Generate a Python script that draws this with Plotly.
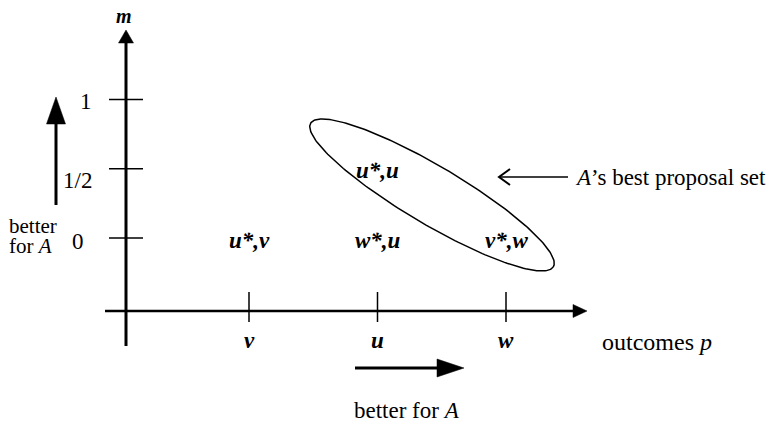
import numpy as np
import plotly.graph_objects as go

# outcomes p along the horizontal axis
outcomes = ["v", "u", "w"]
outcome_pos = [1, 2, 3]

# m values on the vertical axis
m_ticks = [0, 0.5, 1]
m_tick_labels = ["0", "1/2", "1"]

# (outcome, m) pairs written in the plane
pair_labels = ["u*,v", "w*,u", "v*,w", "u*,u"]
pair_p = [1, 2, 3, 2]
pair_m = [0, 0, 0, 0.5]

W, H = 779, 425
PAD = 8  # the page body adds an 8px margin around the figure
FONT = "Liberation Serif, Times New Roman, serif"
FS = 23


# layout helpers: pixel position on the screenshot -> data units
def X(px):
    return 1 + (px - 249) / 128.5


def Y(py):
    return (238 - py) / 138.5


shapes = []
annotations = []


def seg(x0, y0, x1, y1, w):
    shapes.append(dict(type="line", xref="x", yref="y",
                       x0=x0, y0=y0, x1=x1, y1=y1,
                       line=dict(color="black", width=w)))


def arrow(x0, y0, x1, y1, w, head_len, head_half):
    # pixel coords, filled triangle head at (x1, y1)
    L = np.hypot(x1 - x0, y1 - y0)
    ux, uy = (x1 - x0) / L, (y1 - y0) / L
    bx, by = x1 - ux * head_len, y1 - uy * head_len
    seg(X(x0), Y(y0), X(bx + ux), Y(by + uy), w)
    nx, ny = -uy, ux
    pts = [(x1, y1), (bx + nx * head_half, by + ny * head_half),
           (bx - nx * head_half, by - ny * head_half)]
    path = "M " + " L ".join(f"{X(a):.4f},{Y(b):.4f}" for a, b in pts) + " Z"
    shapes.append(dict(type="path", xref="x", yref="y", path=path,
                       fillcolor="black", line=dict(color="black", width=0.5)))


def text(x, y, s, size=FS, xanchor="center", **kw):
    annotations.append(dict(x=x, y=y, xref="x", yref="y", text=s, showarrow=False,
                            xanchor=xanchor, yanchor="middle", borderpad=0,
                            font=dict(family=FONT, size=size, color="black"), **kw))


# axes with arrows
arrow(126, 346, 126, 30, 3, 13, 7.5)
arrow(105, 311, 587, 311, 2.5, 14, 6.5)

# tick marks
for m in m_ticks:
    seg(X(109), m, X(143), m, 1.5)
for p in outcome_pos:
    seg(p, Y(292), p, Y(322), 1.5)

# tick labels (small hand placement like the original)
tick_dx = {"0": 78, "1/2": 77, "1": 86}
tick_dy = {"0": -3, "1/2": -12, "1": -2}
for m, lab in zip(m_ticks, m_tick_labels):
    text(X(tick_dx[lab]), m, lab, yshift=tick_dy[lab])
for p, lab in zip(outcome_pos, outcomes):
    text(p, Y(340), f"<b><i>{lab}</i></b>")

text(X(124), Y(16), "<b><i>m</i></b>", size=20)
text(X(657), Y(342), "outcomes <i>p</i>", size=24)

# pairs
for lab, p, m in zip(pair_labels, pair_p, pair_m):
    text(p, m, f"<b><i>{lab}</i></b>", yshift=-2)

# "better for A" arrows
arrow(56, 205, 56, 97, 3, 27, 9.5)
text(X(8), Y(226), "better", size=21, xanchor="left")
text(X(8), Y(246), "for <i>A</i>", size=21, xanchor="left")
arrow(355, 368, 464, 368, 3, 27, 9)
text(X(407), Y(410), "better for <i>A</i>")

# best proposal set arrow
seg(X(500), Y(177), X(568), Y(177), 1.5)
shapes.append(dict(type="path", xref="x", yref="y",
                   path=f"M {X(510):.4f},{Y(169):.4f} L {X(499):.4f},{Y(177):.4f} L {X(510):.4f},{Y(185):.4f}",
                   line=dict(color="black", width=2)))
text(X(574), Y(177), "<i>A</i>’s best proposal set", size=23, xanchor="left")

# ellipse around A's best proposal set
t = np.linspace(0, 2 * np.pi, 240)
cx, cy, a, b, th = 432, 195, 141, 29, np.radians(30.6)
ex = cx + a * np.cos(t) * np.cos(th) - b * np.sin(t) * np.sin(th)
ey = cy + a * np.cos(t) * np.sin(th) + b * np.sin(t) * np.cos(th)

fig = go.Figure()
fig.add_trace(go.Scatter(
    x=[X(v) for v in ex],
    y=[Y(v) for v in ey],
    mode='lines',
    line=dict(color='black', width=1.5),
    hoverinfo='skip',
    showlegend=False
))

fig.update_layout(
    width=W - PAD,
    height=H - PAD,
    autosize=False,
    margin=dict(l=0, r=0, t=0, b=0),
    plot_bgcolor='white',
    paper_bgcolor='white',
    showlegend=False,
    shapes=shapes,
    annotations=annotations,
    xaxis=dict(range=[X(PAD), X(W)], visible=False, fixedrange=True),
    yaxis=dict(range=[Y(H), Y(PAD)], visible=False, fixedrange=True),
)

fig.write_html("out.html", config={'displayModeBar': False})
